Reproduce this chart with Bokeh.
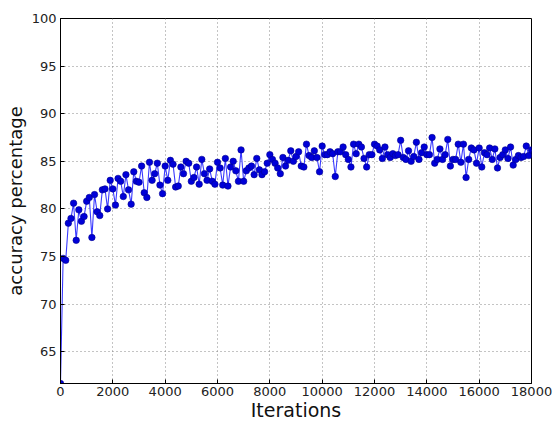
from bokeh.plotting import figure
from bokeh.models import Range1d, FixedTicker
from bokeh.embed import file_html
from bokeh.resources import INLINE

iterations = list(range(0, 18001, 100))
accuracy = [
    61.66, 74.8, 74.6, 78.5, 79.0, 80.6, 76.7, 79.9, 78.7, 79.2,
    80.8, 81.2, 77.0, 81.5, 79.7, 79.3, 82.0, 82.1, 80.0, 83.0,
    82.1, 80.4, 83.2, 82.9, 81.3, 83.6, 82.0, 80.5, 83.9, 82.9,
    82.8, 84.5, 81.7, 81.2, 84.9, 83.0,
    83.7, 84.8, 82.5, 81.6, 84.5, 83.0, 85.1, 84.7, 82.3, 82.4,
    84.4, 83.7, 85.0, 84.8, 82.9, 83.3, 84.4, 82.6, 85.2, 83.7,
    83.0, 84.2, 82.9, 82.6, 84.9, 84.3, 82.5, 85.3, 82.4, 84.4,
    85.0, 84.0, 82.9, 86.2, 82.9, 84.0, 84.3,
    84.5, 83.6, 85.3, 84.1, 83.6, 83.9, 84.8, 85.7, 85.2, 84.8,
    84.3, 83.7, 85.4, 84.5, 85.1, 86.1, 85.0, 85.5, 86.0, 84.5,
    84.4, 86.8, 85.6, 85.4, 86.1, 85.4, 83.9, 86.6, 85.7, 85.7,
    86.0, 85.8, 83.4, 86.0, 86.0, 86.5,
    85.7, 85.2, 84.4, 86.8, 85.8, 86.8, 86.5, 85.3, 84.4, 85.7,
    85.7, 86.8, 86.6, 86.2, 85.3, 86.5, 85.7, 85.4, 85.8, 85.6,
    85.7, 87.2, 85.4, 85.2, 86.1, 85.0, 85.5, 87.0, 85.2, 85.9,
    86.5, 85.7, 85.7, 87.5, 84.8, 85.2,
    86.3, 85.2, 85.7, 87.3, 84.5, 85.2, 85.2, 86.8, 84.9, 86.8,
    83.3, 85.2, 86.4, 86.2, 84.8, 86.4, 84.4, 85.9, 85.7, 86.4,
    85.2, 86.3, 84.3, 85.4, 85.7, 86.2, 85.3, 86.5, 84.6, 85.2,
    85.6, 85.4, 85.5, 86.6, 85.6, 86.2,
]
x_ticks = list(range(0, 18001, 2000))
y_ticks = [65, 70, 75, 80, 85, 90, 95, 100]

FONT = "DejaVu Sans"

p = figure(frame_width=471, frame_height=365, output_backend="svg",
           toolbar_location=None,
           x_range=Range1d(0, 18000), y_range=Range1d(61.66, 100),
           min_border_left=60, min_border_right=27, min_border_top=18,
           min_border_bottom=36, background_fill_color="white",
           border_fill_color="white")

p.outline_line_color = "black"
p.outline_line_width = 1

for ax in (p.xaxis[0], p.yaxis[0]):
    ax.major_tick_in = 4
    ax.major_tick_out = 0
    ax.minor_tick_line_color = None
    ax.axis_line_color = "black"
    ax.major_label_text_font = FONT
    ax.major_label_text_font_size = "13px"
    ax.major_label_text_color = "#222222"
    ax.axis_label_text_font = FONT
    ax.axis_label_text_font_style = "normal"
    ax.axis_label_text_color = "#111111"

p.xaxis[0].ticker = FixedTicker(ticks=x_ticks)
p.yaxis[0].ticker = FixedTicker(ticks=y_ticks)
p.xaxis[0].axis_label = "Iterations"
p.xaxis[0].axis_label_text_font_size = "19px"
p.xaxis[0].axis_label_standoff = 0
p.xaxis[0].major_label_standoff = 3
p.yaxis[0].axis_label = "accuracy percentage"
p.yaxis[0].axis_label_text_font_size = "18px"
p.yaxis[0].axis_label_standoff = 3
p.yaxis[0].major_label_standoff = 4

p.xgrid.ticker = FixedTicker(ticks=x_ticks)
p.ygrid.ticker = FixedTicker(ticks=y_ticks)
for g in (p.xgrid[0], p.ygrid[0]):
    g.grid_line_color = "#888888"
    g.grid_line_dash = "1 3"
    g.grid_line_width = 1

p.line(iterations, accuracy, line_color="#3a3aff", line_width=1.1)
p.scatter(iterations, accuracy, size=6.5, fill_color="#0000d8",
          line_color="#000090", line_width=0.6)

open("out.html", "w").write(file_html(p, INLINE))
